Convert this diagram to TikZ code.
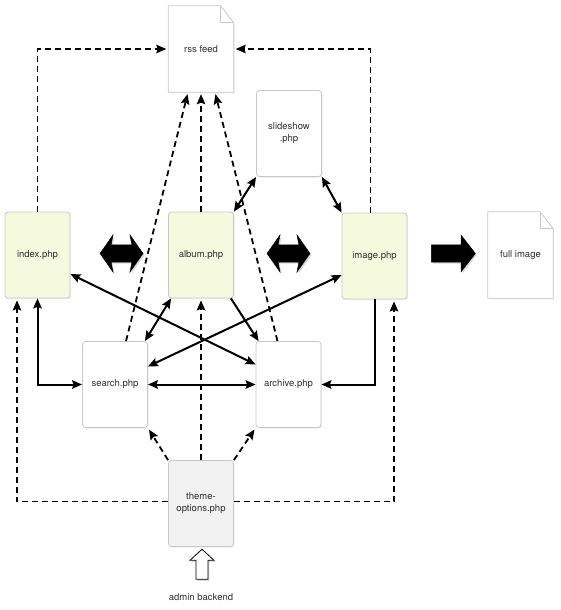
\documentclass[tikz,border=0pt]{standalone}
\usepackage{fontspec}
\setmainfont{TeX Gyre Heros}
\usepackage{xcolor}
\usetikzlibrary{arrows.meta,shapes.arrows,shadows}
\definecolor{pagegreen}{HTML}{F5FADF}
\definecolor{boxline}{HTML}{C8C8C8}
\definecolor{themegray}{HTML}{F2F2F2}
\definecolor{labelgray}{HTML}{2E2E2E}
\pgfdeclarelayer{background}
\pgfsetlayers{background,main}

\begin{document}
\begin{tikzpicture}[x=1pt, y=-1pt,
    pagenode/.style={rectangle, rounded corners=3pt, draw=boxline, fill=white, line width=0.8pt, minimum width=65pt, minimum height=86pt, inner sep=2pt, align=center, text=labelgray, font=\fontsize{9.5}{12}\selectfont, drop shadow={shadow xshift=1pt, shadow yshift=-1.2pt, opacity=0.15}},
    mainnode/.style={pagenode, fill=pagegreen},
    docnode/.style={rectangle, draw=none, fill=none, minimum width=65pt, minimum height=86pt, inner sep=2pt, text=labelgray, font=\fontsize{9.5}{12}\selectfont},
    docline/.style={draw=boxline, fill=white, line width=0.8pt, drop shadow={shadow xshift=1pt, shadow yshift=-1.2pt, opacity=0.15}},
    fatboth/.style={double arrow, fill=black, draw=black, inner xsep=0pt, inner ysep=8.5pt, minimum height=43pt, minimum width=37pt, double arrow head extend=10pt, double arrow tip angle=110, double arrow head indent=2pt, drop shadow={shadow xshift=1.5pt, shadow yshift=-1.5pt, opacity=0.3}},
    fatright/.style={single arrow, fill=black, draw=black, inner xsep=0pt, inner ysep=8.5pt, minimum height=44pt, minimum width=36pt, single arrow head extend=9.5pt, single arrow tip angle=104, drop shadow={shadow xshift=1.5pt, shadow yshift=-1.5pt, opacity=0.3}},
    hollowup/.style={single arrow, shape border rotate=90, fill=white, draw=black, line width=0.8pt, inner sep=5.5pt, minimum height=30pt, minimum width=24pt, single arrow head extend=6pt, single arrow tip angle=95, drop shadow={shadow xshift=1.5pt, shadow yshift=-1.5pt, opacity=0.3}}]

            \useasboundingbox (0,0) rectangle (560,610);

            \node[docnode] (Rss) at (201,49) {rss feed};
            \node[pagenode] (Sld) at (289,133.5) {slideshow\\.php};
            \node[mainnode] (Idx) at (37.5,255) {index.php};
            \node[mainnode] (Alb) at (201,255) {album.php};
            \node[mainnode] (Img) at (374.5,256) {image.php};
            \node[docnode] (Full) at (520.5,255) {full image};
            \node[pagenode] (Srch) at (115,384.5) {search.php};
            \node[pagenode] (Arch) at (288.5,384.5) {archive.php};
            \node[pagenode, fill=themegray] (Thm) at (201,503.5) {theme-\\options.php};

            \node[fatboth] (IdxAlb) at (121.5,253.5) {};
            \node[fatboth] (AlbImg) at (288.5,253.5) {};
            \node[fatright] (ImgFull) at (450,253.5) {};
            \node[hollowup] (Adm) at (202,567) {};
            \node[docnode, minimum height=0pt] (AdmText) at (201,597) {admin backend};

            \begin{pgfonlayer}{background}
            \draw[docline] (Rss.north west) -- ([xshift=-13pt]Rss.north east) -- ([yshift=-17pt]Rss.north east) -- (Rss.south east) -- (Rss.south west) -- cycle;
            \draw[boxline, line width=0.8pt] ([xshift=-13pt]Rss.north east) |- ([yshift=-17pt]Rss.north east);
            \draw[docline] (Full.north west) -- ([xshift=-13pt]Full.north east) -- ([yshift=-17pt]Full.north east) -- (Full.south east) -- (Full.south west) -- cycle;
            \draw[boxline, line width=0.8pt] ([xshift=-13pt]Full.north east) |- ([yshift=-17pt]Full.north east);
            \end{pgfonlayer}

            \tikzset{tip/.tip={Stealth[length=10pt,width=8.5pt,inset=1.5pt]}}
            \tikzset{solidarr/.style={line width=2pt, -tip}}
            \tikzset{botharr/.style={line width=2pt, tip-tip}}
            \tikzset{dasharr/.style={line width=1.8pt, dash pattern=on 6pt off 4pt, -tip, shorten >=2pt}}

            \draw[botharr] (Idx.south) |- (Srch.west);
            \draw[botharr] ([yshift=-19pt]Idx.east) -- ([yshift=20pt]Arch.west);
            \draw[botharr] ([xshift=3pt]Alb.south west) -- ([xshift=-3pt]Srch.north east);
            \draw[solidarr] ([xshift=-3pt]Alb.south east) -- ([xshift=3pt]Arch.north west);
            \draw[botharr] ([yshift=-19pt]Img.west) -- ([yshift=18pt]Srch.east);
            \draw[botharr] (Srch) -- (Arch);
            \draw[solidarr] (Img.south) |- (Arch.east);
            \draw[botharr] (Alb.north east) -- (Sld.south west);
            \draw[botharr] (Img.north west) -- (Sld.south east);

            \draw[dasharr] (Idx.north) |- (Rss.west);
            \draw[dasharr] ([xshift=-4pt]Img.north) |- (Rss.east);
            \draw[dasharr] ([xshift=11pt]Srch.north) -- ([xshift=-13pt]Rss.south);
            \draw[dasharr] (Alb.north) -- (Rss.south);
            \draw[dasharr] ([xshift=-11pt]Arch.north) -- ([xshift=14pt]Rss.south);
            \draw[dasharr] (Thm.north) -- (Alb.south);
            \draw[dasharr] (Thm.north west) -- (Srch.south east);
            \draw[dasharr] (Thm.north east) -- (Arch.south west);
            \draw[dasharr] ([yshift=2pt]Thm.west) -| ([xshift=-20.5pt]Idx.south);
            \draw[dasharr] ([yshift=2pt]Thm.east) -| ([xshift=19.5pt]Img.south);

        \end{tikzpicture}
\end{document}
